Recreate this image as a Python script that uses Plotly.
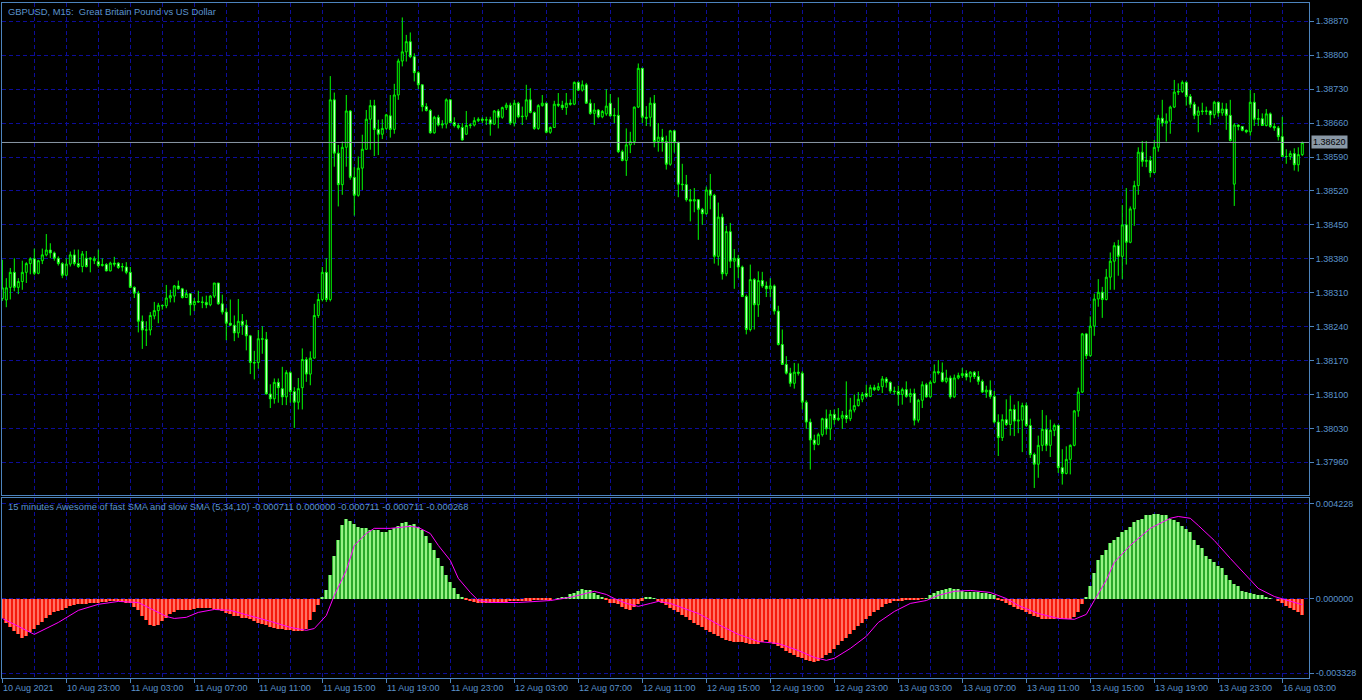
import plotly.graph_objects as go

# price values in 1e-5 above 1.37000 (bar index 0..325, M15)
OPEN = [1298,1295,1321,1352,1321,1333,1352,1370,1380,1350,1376,1388,1398,1392,1381,1370,1346,1369,1388,1370,
        1364,1381,1379,1376,1374,1366,1368,1355,1371,1371,1363,1363,1352,1321,1309,1251,1233,1233,1262,1273,
        1284,1283,1299,1303,1324,1318,1300,1308,1285,1292,1291,1290,1285,1303,1330,1287,1270,1247,1243,1227,
        1251,1243,1221,1166,1166,1215,1214,1101,1091,1125,1112,1095,1145,1106,1084,1114,1172,1142,1175,1263,
        1296,1352,1296,1708,1598,1533,1610,1685,1548,1511,1567,1606,1668,1696,1647,1637,1649,1675,1647,1718,
        1788,1807,1828,1797,1764,1739,1694,1686,1640,1672,1656,1658,1708,1661,1655,1651,1637,1655,1656,1665,
        1668,1666,1667,1658,1685,1672,1692,1697,1660,1701,1673,1674,1708,1682,1649,1696,1701,1641,1651,1699,
        1697,1692,1701,1699,1744,1728,1739,1701,1680,1687,1673,1679,1701,1675,1676,1601,1583,1615,1622,1693,
        1773,1672,1672,1701,1622,1631,1622,1575,1644,1620,1534,1533,1502,1499,1502,1482,1473,1522,1511,1385,
        1466,1349,1436,1375,1381,1363,1302,1234,1337,1285,1335,1324,1318,1324,1272,1203,1162,1144,1123,1146,
        1144,1084,1043,1006,997,1017,1050,1029,1059,1048,1051,1057,1050,1068,1077,1090,1102,1096,1114,1110,
        1116,1132,1125,1107,1106,1100,1110,1096,1102,1047,1088,1120,1095,1125,1147,1145,1127,1134,1095,1134,
        1139,1143,1136,1146,1137,1127,1105,1109,1096,1043,1011,1048,1038,1069,1045,1047,1077,1036,976,956,
        995,1028,995,1026,1036,949,937,966,995,1066,1105,1225,1180,1241,1297,1311,1296,1342,1375,1407,
        1385,1450,1414,1483,1531,1600,1581,1583,1558,1610,1670,1660,1664,1693,1724,1725,1744,1715,1699,1676,
        1685,1684,1685,1677,1703,1681,1689,1676,1534,1656,1653,1645,1642,1703,1668,1669,1655,1679,1653,1650,
        1632,1591,1591,1597,1574,1595]
HIGH = [1378,1340,1361,1381,1340,1376,1373,1383,1401,1378,1401,1431,1412,1395,1385,1373,1381,1395,1399,1399,
        1396,1396,1383,1385,1399,1381,1371,1374,1384,1373,1371,1373,1363,1323,1314,1263,1251,1270,1291,1289,
        1285,1326,1316,1326,1335,1320,1316,1309,1299,1314,1302,1304,1305,1330,1330,1306,1278,1296,1263,1297,
        1266,1254,1223,1190,1233,1241,1229,1121,1133,1133,1157,1150,1148,1115,1134,1195,1177,1189,1287,1308,
        1363,1381,1757,1723,1615,1622,1718,1687,1569,1591,1636,1687,1708,1708,1667,1668,1679,1718,1741,1793,
        1878,1842,1847,1804,1767,1740,1701,1689,1675,1677,1666,1711,1709,1672,1660,1660,1685,1660,1672,1672,
        1672,1673,1673,1687,1689,1694,1702,1702,1708,1704,1694,1739,1732,1684,1699,1718,1702,1653,1706,1722,
        1706,1722,1709,1746,1746,1748,1743,1709,1701,1689,1687,1730,1720,1691,1713,1605,1649,1642,1694,1783,
        1773,1695,1713,1718,1660,1648,1634,1646,1646,1622,1576,1553,1524,1526,1503,1485,1529,1555,1514,1496,
        1473,1448,1454,1400,1388,1366,1306,1368,1340,1354,1353,1333,1340,1327,1283,1234,1179,1155,1165,1164,
        1148,1088,1050,1017,1021,1052,1069,1068,1069,1072,1066,1127,1093,1100,1105,1105,1120,1120,1120,1124,
        1138,1136,1127,1116,1118,1114,1127,1112,1112,1091,1127,1124,1129,1162,1171,1166,1151,1139,1141,1145,
        1155,1150,1148,1148,1148,1131,1118,1129,1107,1059,1059,1090,1098,1079,1086,1083,1083,1050,980,1015,
        1068,1057,1048,1040,1038,987,993,997,1068,1114,1227,1227,1261,1308,1338,1322,1359,1393,1414,1419,
        1491,1526,1488,1541,1610,1623,1623,1592,1625,1677,1708,1680,1696,1749,1742,1748,1746,1720,1704,1694,
        1702,1694,1686,1706,1704,1702,1701,1708,1660,1657,1654,1647,1728,1722,1689,1680,1689,1682,1660,1654,
        1673,1606,1603,1608,1610,1622]
LOW = [1293,1280,1296,1313,1307,1316,1330,1348,1346,1348,1369,1385,1381,1376,1366,1340,1344,1364,1366,1361,
       1352,1362,1352,1369,1362,1364,1354,1354,1364,1359,1354,1348,1320,1299,1228,1194,1200,1222,1255,1247,
       1275,1278,1290,1290,1316,1298,1299,1263,1272,1289,1278,1278,1282,1299,1285,1265,1212,1241,1210,1217,
       1223,1191,1142,1131,1153,1184,1100,1072,1081,1083,1078,1078,1083,1031,1069,1069,1126,1119,1174,1258,
       1292,1291,1292,1570,1488,1512,1570,1543,1469,1508,1522,1605,1605,1592,1594,1627,1646,1630,1638,1708,
       1777,1787,1794,1746,1730,1684,1684,1638,1638,1653,1649,1649,1660,1651,1647,1624,1636,1649,1653,1662,
       1660,1656,1634,1656,1649,1669,1687,1656,1653,1670,1656,1667,1680,1646,1646,1694,1639,1638,1651,1693,
       1687,1677,1696,1697,1726,1725,1700,1677,1656,1670,1670,1675,1673,1660,1598,1581,1551,1598,1615,1691,
       1660,1654,1653,1610,1601,1601,1564,1572,1599,1507,1521,1498,1457,1476,1419,1450,1471,1482,1370,1366,
       1337,1344,1361,1318,1340,1301,1224,1230,1234,1260,1320,1301,1301,1265,1201,1162,1141,1116,1112,1139,
       1069,1029,945,985,995,1013,1017,1006,1038,1045,1029,1041,1045,1063,1075,1084,1093,1095,1107,1107,
       1103,1114,1102,1100,1077,1079,1093,1083,1036,1042,1072,1093,1093,1123,1141,1125,1123,1091,1093,1131,
       1134,1129,1125,1132,1120,1103,1093,1091,1040,973,1004,1035,1015,1014,1020,981,1033,969,907,928,
       983,983,971,1014,938,914,935,935,993,1054,1103,1173,1178,1221,1281,1258,1294,1316,1316,1345,
       1338,1368,1412,1448,1512,1570,1569,1548,1556,1601,1653,1622,1638,1691,1718,1722,1696,1691,1668,1641,
       1677,1677,1656,1670,1673,1675,1646,1622,1489,1645,1643,1639,1634,1654,1654,1654,1653,1650,1644,1624,
       1590,1576,1584,1562,1560,1592]
CLOSE = [1320,1320,1352,1321,1333,1352,1370,1380,1350,1376,1388,1398,1392,1381,1370,1346,1369,1388,1370,1364,
         1390,1364,1381,1380,1366,1368,1355,1371,1369,1362,1364,1352,1321,1309,1251,1233,1233,1263,1273,1284,
         1283,1299,1304,1324,1318,1300,1308,1285,1292,1291,1290,1285,1303,1330,1287,1270,1247,1243,1227,1251,
         1243,1221,1166,1165,1215,1214,1101,1091,1125,1114,1095,1145,1106,1084,1112,1172,1142,1175,1263,1296,
         1352,1296,1708,1598,1533,1610,1685,1548,1511,1567,1606,1668,1696,1647,1637,1649,1677,1647,1718,1788,
         1807,1828,1797,1764,1739,1694,1686,1640,1672,1656,1658,1708,1661,1655,1651,1625,1655,1656,1665,1668,
         1666,1667,1658,1685,1672,1692,1697,1660,1701,1673,1674,1708,1682,1649,1696,1701,1641,1651,1699,1697,
         1692,1701,1699,1744,1728,1739,1701,1680,1687,1673,1684,1695,1675,1676,1601,1583,1615,1622,1693,1773,
         1672,1670,1701,1622,1631,1622,1575,1644,1620,1534,1533,1502,1499,1502,1482,1473,1522,1511,1385,1466,
         1349,1436,1375,1381,1363,1302,1234,1337,1285,1335,1324,1318,1324,1272,1203,1162,1144,1123,1146,1144,
         1084,1043,1006,997,1017,1050,1029,1059,1048,1051,1057,1050,1068,1077,1090,1100,1096,1114,1110,1116,
         1132,1125,1107,1106,1100,1110,1096,1102,1047,1088,1120,1095,1125,1147,1145,1127,1134,1095,1134,1139,
         1143,1136,1146,1137,1127,1105,1109,1096,1043,1011,1048,1038,1069,1045,1047,1077,1036,976,956,995,
         1028,995,1026,1036,949,937,966,995,1066,1105,1225,1180,1241,1297,1311,1296,1342,1375,1407,1385,
         1450,1414,1483,1531,1600,1581,1583,1558,1610,1670,1660,1664,1693,1724,1725,1744,1715,1699,1676,1685,
         1684,1685,1677,1703,1681,1689,1676,1624,1656,1653,1645,1642,1703,1668,1669,1655,1679,1653,1650,1632,
         1591,1591,1597,1574,1595,1620]

# oscillator histogram, in 1e-6, one value per bar
AO = [-880,-1060,-1240,-1420,-1590,-1770,-1650,-1500,-1350,-1190,-1030,-880,-740,-610,-540,-480,-410,-340,-290,-250,
      -230,-220,-210,-190,-170,-150,-130,-120,-120,-120,-140,-170,-210,-350,-520,-750,-970,-1190,-1200,-1150,
      -1000,-880,-660,-590,-520,-500,-490,-480,-450,-430,-430,-430,-430,-450,-480,-560,-640,-700,-750,-790,
      -840,-880,-920,-990,-1060,-1120,-1180,-1240,-1290,-1330,-1360,-1390,-1410,-1440,-1460,-1420,-1330,-970,-600,-300,
      50,370,1040,1890,2600,3270,3540,3450,3320,3180,3140,3140,3090,3050,3050,2960,3000,3050,3140,3230,
      3360,3410,3270,3320,3180,3050,2820,2510,2160,1800,1440,1080,730,460,190,40,-60,-120,-150,-170,
      -170,-170,-170,-160,-150,-140,-130,-120,-110,-100,-90,-80,-80,-70,-60,-50,-40,-30,0,20,
      60,100,190,260,330,420,400,370,240,170,100,-30,-170,-210,-250,-390,-440,-480,-390,-250,
      -80,60,100,20,-120,-210,-300,-430,-520,-610,-720,-830,-950,-1060,-1170,-1280,-1390,-1500,-1590,-1680,
      -1750,-1820,-1870,-1910,-1930,-1950,-1980,-2000,-2000,-2000,-1930,-1860,-1930,-2000,-2110,-2220,-2310,-2400,-2490,-2580,
      -2660,-2750,-2800,-2840,-2800,-2660,-2530,-2400,-2240,-2080,-1900,-1730,-1570,-1410,-1230,-1060,-900,-750,-610,-480,
      -360,-250,-180,-120,-100,-80,-70,-60,-45,-30,-5,20,150,240,330,380,420,460,440,420,
      330,300,280,280,280,260,240,200,150,-30,-120,-210,-300,-390,-460,-520,-590,-660,-750,-830,
      -920,-920,-920,-900,-880,-900,-920,-920,-800,-610,-250,100,590,1170,1710,1950,2160,2470,2600,2740,
      2960,3070,3180,3410,3500,3580,3720,3740,3760,3760,3740,3720,3580,3500,3410,3230,3100,2960,2600,2420,
      2250,1930,1780,1620,1480,1350,1080,820,680,550,330,280,240,190,170,150,60,30,0,-120,
      -210,-340,-430,-520,-610,-711]

# signal line, read at these bar indices (1e-6)
SIG_X = [0,8,14,19,24,29,34,37,41,43,46,49,53,57,62,67,72,76,78,81,83,86,88,91,93,97,102,104,107,109,
         112,114,117,119,122,129,137,142,146,148,151,153,156,159,162,164,167,169,174,179,184,189,194,199,203,206,
         208,212,216,219,223,227,231,234,238,242,247,251,254,259,264,268,271,273,276,278,282,287,292,294,297,
         299,303,307,311,314,318,322,325]
SIG_Y = [-880,-1590,-1060,-520,-250,-120,-170,-430,-790,-880,-830,-610,-480,-520,-750,-1010,-1280,-1410,-1330,-750,
         150,1260,2380,2910,3140,3140,3230,3180,2910,2380,1710,910,280,-80,-170,-170,-80,60,240,330,190,10,-210,
         -340,-210,-120,-210,-340,-660,-1150,-1590,-1910,-2000,-2310,-2620,-2750,-2660,-2220,-1680,-1060,-570,-210,
         -80,150,330,370,280,10,-300,-660,-880,-920,-700,-80,820,1620,2380,3140,3590,3670,3590,3270,2600,1800,
         1040,460,100,-120,-268]

X_LABELS = ["10 Aug 2021", "10 Aug 23:00", "11 Aug 03:00", "11 Aug 07:00", "11 Aug 11:00", "11 Aug 15:00",
            "11 Aug 19:00", "11 Aug 23:00", "12 Aug 03:00", "12 Aug 07:00", "12 Aug 11:00", "12 Aug 15:00",
            "12 Aug 19:00", "12 Aug 23:00", "13 Aug 03:00", "13 Aug 07:00", "13 Aug 11:00", "13 Aug 15:00",
            "13 Aug 19:00", "13 Aug 23:00", "16 Aug 03:00"]
PRICE_TICKS = [1.38870, 1.38800, 1.38730, 1.38660, 1.38590, 1.38520, 1.38450, 1.38380, 1.38310,
               1.38240, 1.38170, 1.38100, 1.38030, 1.37960]
AO_TICKS = [0.004228, 0.0, -0.003328]
LAST_PRICE = 1.38620

n = len(CLOSE)
idx = list(range(n))
conv = lambda a: [1.37 + v / 1e5 for v in a]
o, h, l, c = conv(OPEN), conv(HIGH), conv(LOW), conv(CLOSE)
ao = [v / 1e6 for v in AO]
sig = [v / 1e6 for v in SIG_Y]

TXT = "#5b93cc"
BORDER = "#4d84bd"
GRID = "#0d0d9a"
FONT = "Liberation Sans"

fig = go.Figure()
fig.add_trace(go.Candlestick(
    x=idx, open=o, high=h, low=l, close=c, xaxis="x", yaxis="y",
    increasing=dict(line=dict(color="#00ff00", width=1), fillcolor="#000000"),
    decreasing=dict(line=dict(color="#00ff00", width=1), fillcolor="#ffffff"),
    whiskerwidth=0, hoverinfo="skip", showlegend=False))

base_cols = ["#2aa82a" if v >= 0 else "#f51a0c" for v in ao]
top_cols = ["#98f286" if v >= 0 else "#ff7464" for v in ao]
fig.add_trace(go.Bar(x=idx, y=ao, marker=dict(color=base_cols, line=dict(width=0)), width=1.0,
                     xaxis="x2", yaxis="y2", showlegend=False, hoverinfo="skip"))
fig.add_trace(go.Bar(x=idx, y=ao, marker=dict(color=top_cols, line=dict(width=0)), width=0.4,
                     xaxis="x2", yaxis="y2", showlegend=False, hoverinfo="skip"))
fig.add_trace(go.Scatter(x=SIG_X, y=sig, mode="lines", line=dict(color="#ff00ff", width=1),
                         xaxis="x2", yaxis="y2", showlegend=False, hoverinfo="skip"))

xr = [-0.075, 326.68]
major = list(range(0, n, 16))
minor = list(range(8, n, 16))
common_x = dict(range=xr, showline=True, mirror=True, linecolor=BORDER, linewidth=1,
                tickvals=major, showticklabels=False, showgrid=True, gridcolor=GRID,
                griddash="4px,3px", gridwidth=1, zeroline=False,
                minor=dict(tickvals=minor, showgrid=True, gridcolor=GRID, griddash="4px,3px", ticks=""))

fig.update_layout(
    width=1362, height=700, margin=dict(l=2, r=53, t=3, b=22, autoexpand=False),
    paper_bgcolor="#000000", plot_bgcolor="#000000",
    font=dict(family=FONT, size=9, color=TXT),
    bargap=0, barmode="overlay", showlegend=False,
    xaxis=dict(domain=[0, 1], anchor="y", ticks="", rangeslider=dict(visible=False), **common_x),
    xaxis2=dict(domain=[0, 1], anchor="y2", matches="x", ticks="outside", ticklen=4,
                tickcolor=BORDER, **common_x),
    yaxis=dict(domain=[0.2711, 1], range=[1.378925, 1.389078], side="right",
               tickvals=PRICE_TICKS, ticktext=[f"{v:.5f}" for v in PRICE_TICKS],
               ticks="outside", ticklen=4, tickcolor=BORDER, showline=True, mirror=True,
               linecolor=BORDER, showgrid=True, gridcolor=GRID, griddash="4px,3px", zeroline=False,
               tickfont=dict(size=9, color=TXT)),
    yaxis2=dict(domain=[0, 0.2667], range=[-0.003538, 0.004496], side="right",
                tickvals=AO_TICKS, ticktext=[f"{v:.6f}" for v in AO_TICKS],
                ticks="outside", ticklen=4, tickcolor=BORDER, showline=True, mirror=True,
                linecolor=BORDER, showgrid=True, gridcolor=GRID, griddash="4px,3px", zeroline=False,
                tickfont=dict(size=9, color=TXT)),
)

fig.add_shape(type="line", xref="x domain", yref="y", x0=0, x1=1, y0=LAST_PRICE, y1=LAST_PRICE,
              line=dict(color="#8a98a6", width=1))
fig.add_annotation(xref="paper", yref="y", x=1.0, y=LAST_PRICE, xanchor="left", yanchor="middle",
                   xshift=2, text=f"{LAST_PRICE:.5f}", showarrow=False, bgcolor="#8a98a6",
                   font=dict(color="#000000", size=9, family=FONT), borderpad=1)

fig.add_annotation(xref="paper", yref="paper", x=0, y=1, xanchor="left", yanchor="top", xshift=4, yshift=-1,
                   text="GBPUSD, M15:  Great Britain Pound vs US Dollar", showarrow=False,
                   font=dict(color=TXT, size=9.4, family=FONT))
fig.add_annotation(xref="paper", yref="paper", x=0, y=0.2667, xanchor="left", yanchor="top", xshift=4, yshift=-1,
                   text="15 minutes Awesome of fast SMA and slow SMA (5,34,10) -0.000711 0.000000 -0.000711 -0.000711 -0.000268",
                   showarrow=False, font=dict(color=TXT, size=9.4, family=FONT))

for k, lab in enumerate(X_LABELS):
    fig.add_annotation(xref="x2", yref="paper", x=k * 16, y=0, xanchor="left", yanchor="top",
                       yshift=-3, xshift=-1, text=lab, showarrow=False,
                       font=dict(color=TXT, size=9, family=FONT))

fig.write_html("out.html", config={"displayModeBar": False},
               post_script="document.body.style.margin='0';document.body.style.overflow='hidden';")
